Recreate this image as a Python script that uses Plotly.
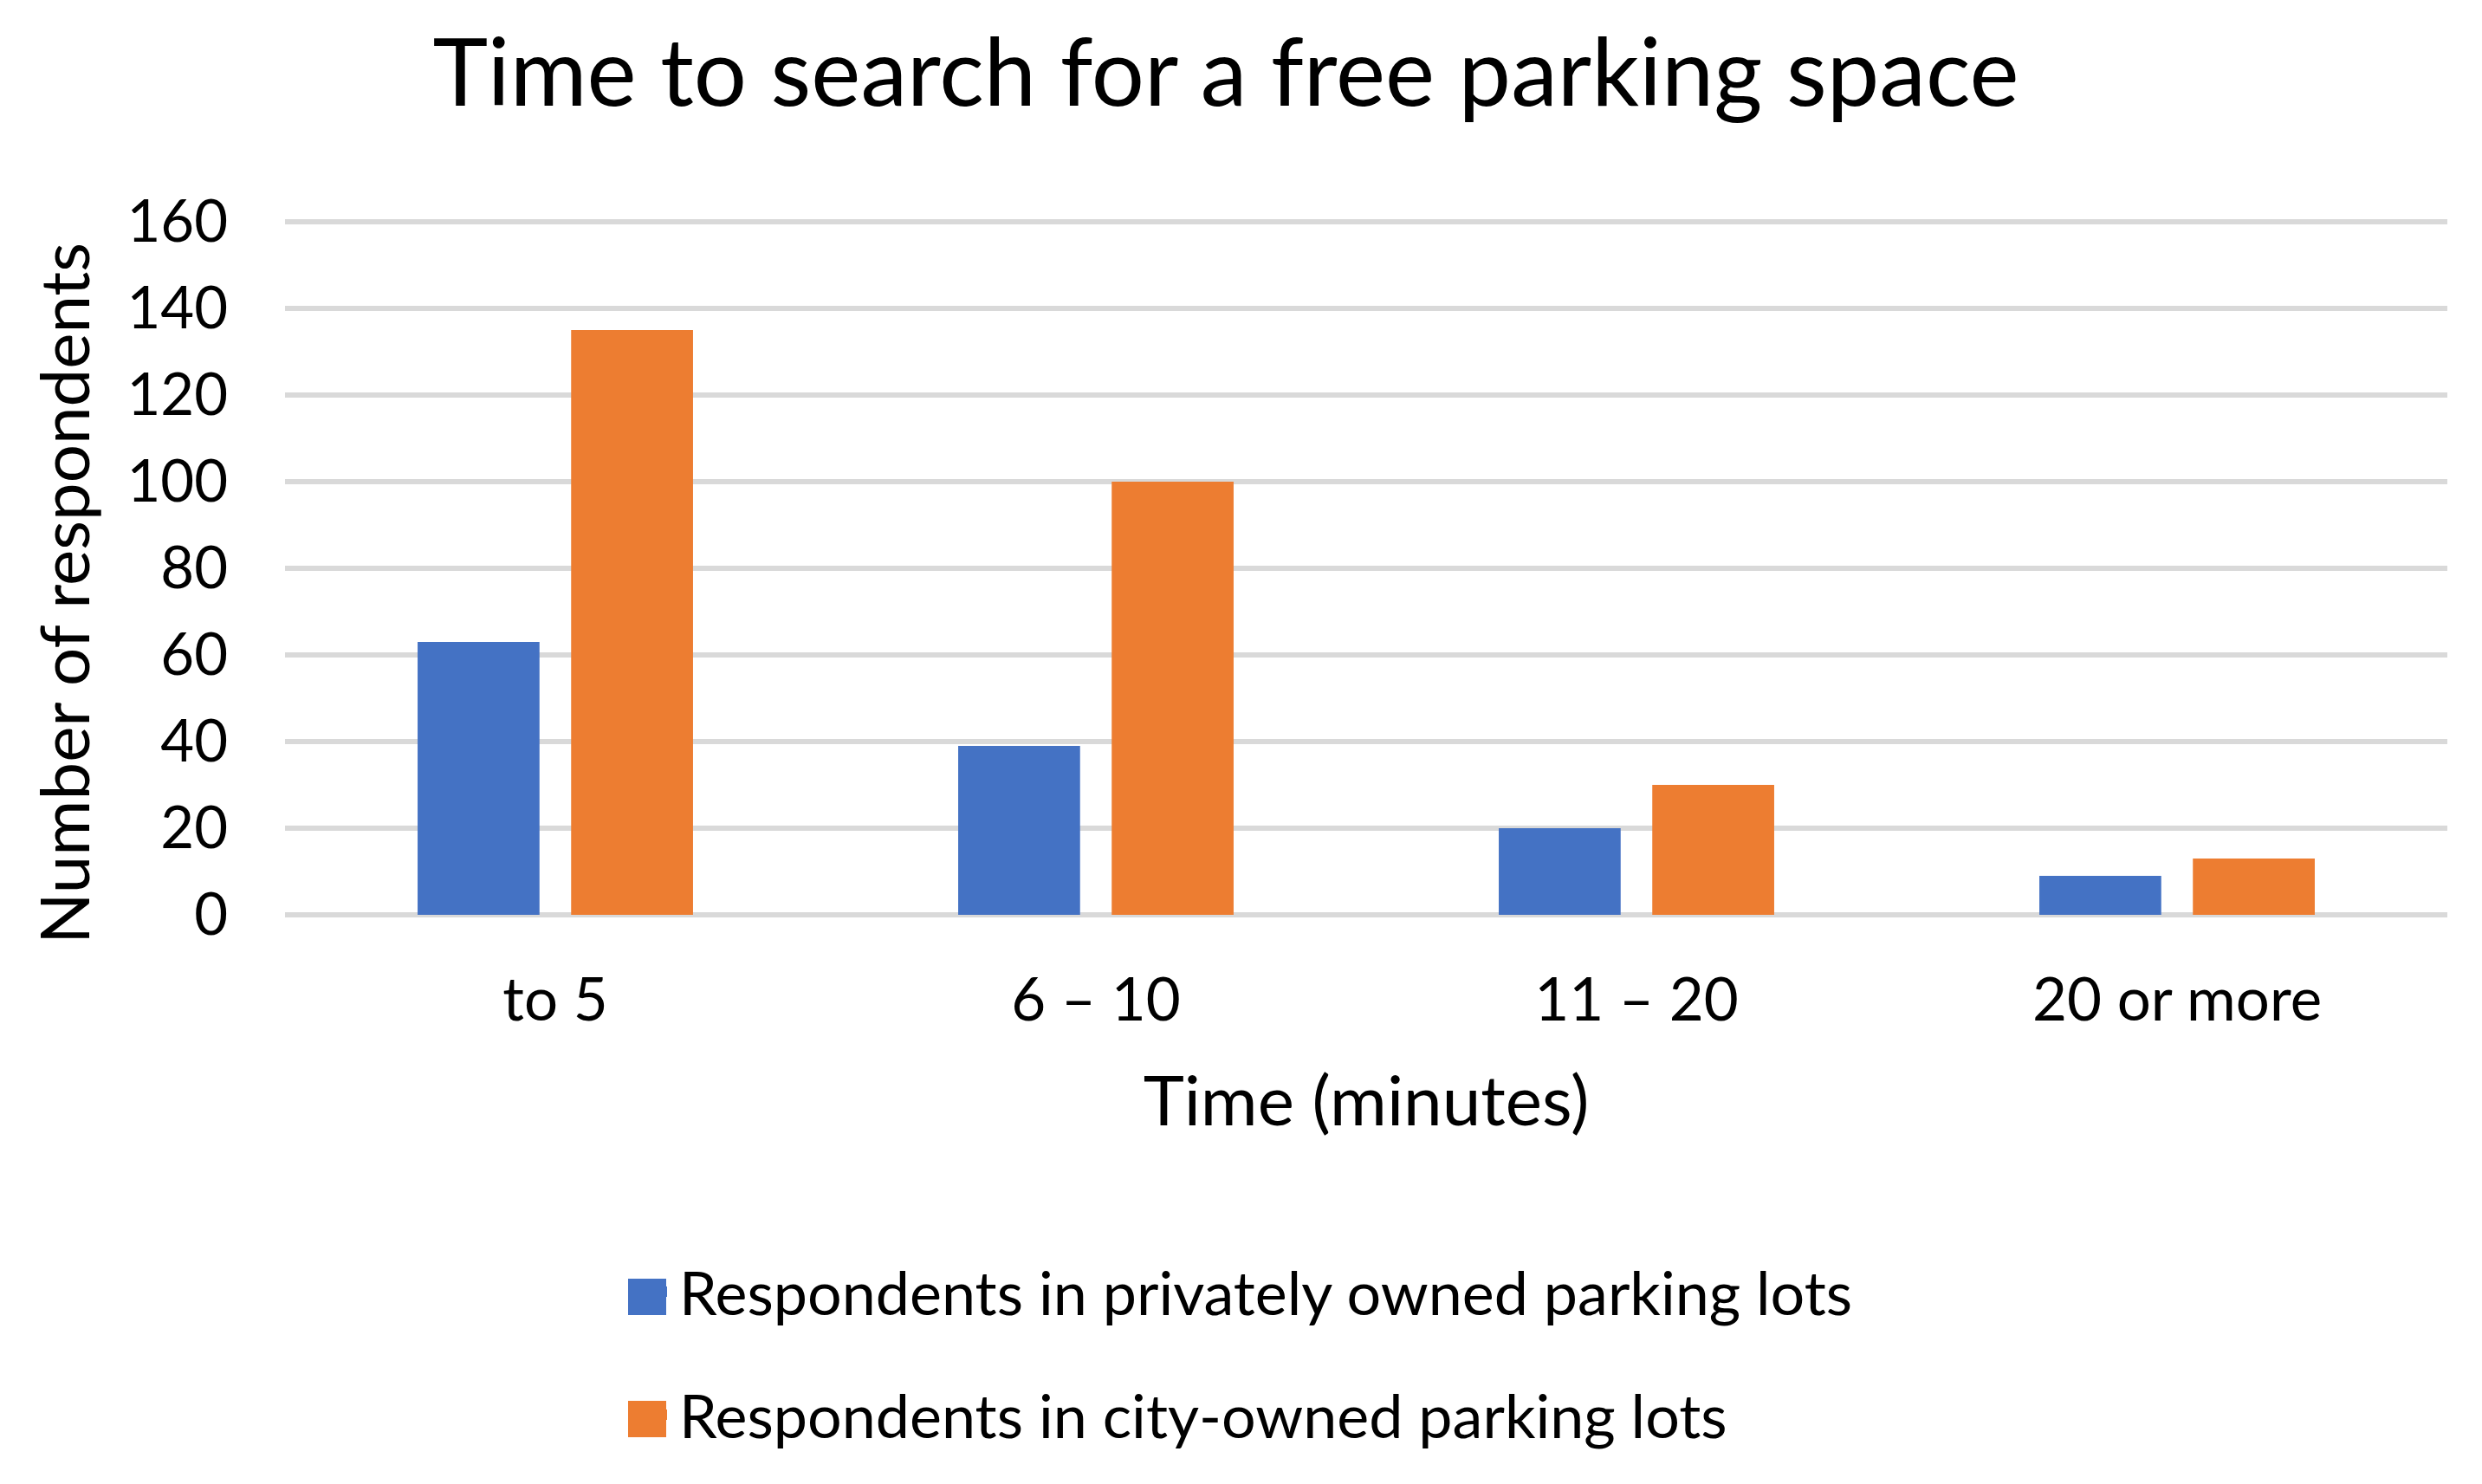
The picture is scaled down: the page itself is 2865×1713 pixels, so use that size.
import plotly.graph_objects as go

categories = ["to 5", "6 – 10", "11 – 20", "20 or more"]
private_lots = [63, 39, 20, 9]
city_lots = [135, 100, 30, 13]
series_names = ["Respondents in privately owned parking lots",
                "Respondents in city-owned parking lots"]
series_colors = ["#4472C4", "#ED7D31"]
y_ticks = [0, 20, 40, 60, 80, 100, 120, 140, 160]

FONT = "Lato"
OFF = 8                      # browser body margin
W, H = 2865 - OFF, 1713 - OFF
Y_MAX = 160.4
PW = 2496
PH = 800 * Y_MAX / 160
L = 329 - OFF
T = 256 - OFF - (PH - 800)
R = W - L - PW
B = H - T - PH


def px_x(p):
    return (p - OFF - L) / PW


def px_y(p):
    return (OFF + T + PH - p) / PH


fig = go.Figure()
for name, vals, col, grp in zip(series_names, [private_lots, city_lots], series_colors, ["a", "b"]):
    fig.add_trace(go.Bar(x=categories, y=vals, name=name,
                         marker=dict(color=col, line=dict(width=0)), legendgroup=grp))

# larger legend swatches (as in the original)
shapes = []
for col, yc in zip(series_colors, [1497, 1638]):
    shapes.append(dict(type="rect", xref="paper", yref="paper",
                       x0=px_x(725), x1=px_x(769), y0=px_y(yc + 21), y1=px_y(yc - 21),
                       fillcolor=col, line=dict(width=0), layer="above"))

fig.update_layout(
    width=W, height=H,
    margin=dict(l=L, r=R, t=T, b=B, pad=0),
    paper_bgcolor="white", plot_bgcolor="white",
    font=dict(family=FONT, color="#000000"),
    barmode="group", bargap=0.432, bargroupgap=0.206,
    title=dict(text="Time to search for a free parking space",
               font=dict(size=108, family=FONT, color="#000000"),
               x=(1415 - OFF) / W, xanchor="center", y=1 - (84 - OFF) / H, yanchor="middle"),
    xaxis=dict(showgrid=False, showline=False, ticks="", zeroline=False,
               tickfont=dict(size=69, family=FONT, color="#000000"),
               ticklabelstandoff=52,
               title=dict(text="Time (minutes)", font=dict(size=80, family=FONT, color="#000000"),
                          standoff=50)),
    yaxis=dict(range=[0, Y_MAX], tickvals=y_ticks, showgrid=True, gridcolor="#D9D9D9", gridwidth=6,
               zeroline=True, zerolinecolor="#D9D9D9", zerolinewidth=6,
               showline=False, ticks="",
               tickfont=dict(size=67, family=FONT, color="#000000"),
               ticklabelstandoff=65),
    annotations=[dict(text="Number of respondents", textangle=-90, showarrow=False,
                      xref="paper", yref="paper", x=px_x(73), y=px_y(685),
                      xanchor="center", yanchor="middle",
                      font=dict(size=78, family=FONT, color="#000000"))],
    shapes=shapes,
    legend=dict(orientation="v", x=px_x(744), xanchor="left",
                y=px_y(1439), yanchor="top",
                font=dict(size=70, family=FONT, color="#000000"),
                traceorder="grouped", tracegroupgap=48, bgcolor="rgba(0,0,0,0)"),
)

fig.write_html("out.html")
